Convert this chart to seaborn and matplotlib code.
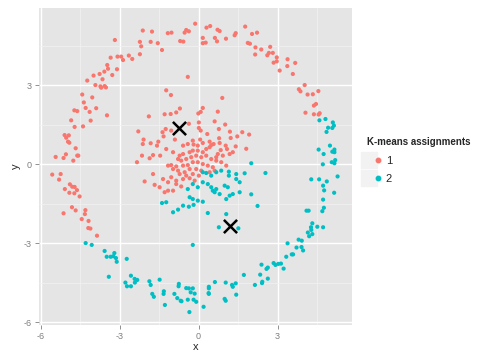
import numpy as np
import pandas as pd
import matplotlib
matplotlib.use("Agg")
import matplotlib.pyplot as plt
import seaborn as sns
from matplotlib.lines import Line2D
from matplotlib.legend_handler import HandlerTuple

## cluster 1 (red)
c1_x = [-2.12, -3.18, -2.23, -2.18, -2.23, -3.08, -2.94, -2.87, -2.65, -2.52, -3.34, -3.47, -3.44, -3.10,
        -3.58, -3.28, -3.76, -3.99, -3.65, -4.23, -3.92, -3.73, -3.70, -3.57, -3.52, -4.42, -4.04, -4.36,
        -4.29, -3.89, -4.72, -4.61, -4.14, -3.48,
        -0.13, -1.77, -1.17, -1.03, -0.53, -0.47, -0.37, 0.30, 0.44, 0.72, 0.80, 1.77, 0.16, 0.62, 1.04,
        1.37, 1.41, -1.82, -1.55, -1.39, -0.70, -0.58, 0.16, 0.27, 0.70, 1.87, -0.41, -1.23, -1.05, 0.90,
        0.16, -0.71, -0.85, -1.06, -1.29, -1.89, -0.01, 0.08, 0.73,
        2.03, 2.22, 1.95, 2.16, 2.38, 2.72, 2.15, 2.61, 2.67, 2.82, 2.97, 2.85, 2.97, 3.38, 3.67, 3.37,
        3.08, 3.58, 4.03, 3.81, 3.87, 4.14, 4.34, 4.55, 4.46, 4.38, 4.06, 4.38, 4.56, 4.60,
        -4.84, -4.10, -4.71, -4.39, -5.09, -4.93, -5.03, -4.96, -4.91, -4.67, -5.04, -4.61, -4.57, -5.43,
        -5.13, -4.76, -2.29, -2.09, -2.12, -2.15, -2.34, -5.56, -5.24, -5.30, -4.89, -4.80, -4.71, -5.08,
        -4.62, -4.91, -4.72, -4.52, -4.81, -4.67, -4.30, -5.13, -4.32, -4.44, -4.18, -2.05,
        0.61, 0.01, -0.37, -1.25, -1.37, -1.33, -1.04, -0.90, -1.82, -1.53, -1.58, -1.23, 0.01, 0.08,
        0.33, 0.77, 1.01, 1.19, 1.47, 1.66, 1.22, 0.78, 0.06, -0.22, -0.59, -0.41, -0.19, -0.03, 0.16,
        0.42, 0.48, 0.42, 0.57, 0.80, 1.03, 1.41, 1.30, 1.18, 1.08, 0.84, 0.73, 0.67, 0.92, 0.29, 0.16,
        -0.03, -0.22, -0.34, -0.59, -0.72, -0.78, -0.66, -0.47, -0.28, -0.09, 0.10, 0.29, 0.48, 0.67,
        0.86, 1.05, -1.86, -1.73, -1.46, -0.97, -1.16, -1.04, -0.85, -0.97, -0.78, -0.59, -0.41, -0.22,
        -0.03, 0.16, 0.35, 0.54, -0.09, 0.10, -0.34, -0.53, -0.72, -0.47, -0.22, 0.01, 0.42, 0.61,
        -1.73, -1.67, -1.35, -1.16, -1.04, -0.85, -1.48, -1.29, -1.16, -0.97, -0.59, -0.34, -0.15,
        -0.66, -0.85,
        1.92, 1.81, -4.19, -4.11, -3.86]
c1_y = [5.08, 4.72, 4.65, 4.48, 4.18, 4.09, 4.09, 3.96, 4.13, 4.00, 4.05, 3.77, 3.63, 3.61,
        3.52, 3.39, 3.43, 3.37, 3.23, 3.18, 3.01, 2.96, 2.91, 2.97, 2.92, 2.65, 2.54, 2.35,
        2.14, 2.13, 2.05, 2.02, 1.99, 1.86,
        5.34, 5.04, 4.98, 5.00, 5.00, 5.10, 5.05, 5.19, 5.25, 5.11, 5.06, 5.23, 4.80, 4.80, 4.77,
        4.90, 4.98, 4.65, 4.60, 4.34, 4.68, 4.66, 4.60, 4.62, 4.67, 4.61, 3.32, 2.81, 2.63, 2.52,
        2.14, 2.12, 1.97, 1.91, 1.90, 1.82, 1.93, 1.99, 2.00,
        4.95, 5.00, 4.58, 4.44, 4.36, 4.46, 4.17, 4.14, 4.23, 4.23, 4.06, 3.86, 3.91, 3.99, 3.85, 3.73,
        3.56, 3.43, 3.01, 2.85, 2.77, 2.65, 2.66, 2.78, 2.29, 2.23, 1.96, 1.90, 1.89, 1.94,
        1.67, 1.66, 1.42, 1.44, 1.11, 1.10, 1.01, 0.86, 0.82, 0.61, 0.38, 0.33, 0.33, 0.28,
        0.24, 0.14, 1.25, 0.94, 0.77, 0.33, 0.08, -0.39, -0.37, -0.58, -0.76, -0.85, -0.86, -0.94,
        -0.98, -1.08, -1.10, -1.22, -1.63, -1.75, -1.74, -1.86, -1.89, -2.08, -2.15, -0.65,
        1.63, 1.59, 1.54, 1.34, 1.22, 1.06, 1.28, 0.94, 0.80, 0.86, 0.71, 0.58, 1.38, 1.28,
        1.15, 1.34, 1.51, 1.24, 1.06, 1.22, 1.00, 0.99, 0.94, 0.90, 0.71, 0.77, 0.75, 0.71, 0.81,
        0.86, 0.73, 0.65, 0.77, 0.81, 0.71, 0.68, 0.46, 0.39, 0.58, 0.54, 0.39, 0.27, 0.33, 0.58, 0.46,
        0.52, 0.52, 0.46, 0.39, 0.33, 0.20, 0.14, 0.20, 0.27, 0.33, 0.27, 0.33, 0.20, 0.14,
        0.08, -0.05, 0.23, 0.35, 0.33, 0.46, -0.05, -0.03, -0.08, -0.18, -0.24, -0.05, -0.03, 0.08,
        0.08, 0.01, -0.05, -0.11, -0.18, -0.24, -0.18, -0.30, -0.37, -0.43, -0.37, -0.43, -0.30, -0.24,
        -0.37, -0.78, -0.56, -0.68, -0.49, -0.62, -0.87, -1.06, -1.00, -1.00, -0.56, -0.53, -0.62,
        -0.84, -0.75,
        1.13, 0.59, -2.42, -2.44, -2.71]

## cluster 2 (teal)
c2_x = [0.16, 0.29, 0.48, 0.67, 0.86, 1.15, 1.15, 1.43, 1.43, 1.56, 0.16, 0.35, 0.48, 0.54, 0.61,
        0.67, 0.99, 1.11, 0.80, 1.05, 1.18, 1.30, 1.56, -0.41, -0.22, -0.03, -0.34, -0.22, -0.03, 0.16,
        -1.39, -1.23, -0.78, -0.59, -0.37, -0.19, -0.97, 0.35, 1.05,
        2.00, 1.75, 4.59, 4.82, 5.10, 5.14, 4.92, 5.08, 4.86, 4.99, 4.56, 4.75, 5.08, 5.16, 5.16, 5.19,
        5.06, 5.16, 4.72, 2.54, 5.28, 4.28, 4.58, 4.87, 4.73, 4.77, 5.15, 2.00, 4.73, 2.24, 4.76, 4.10,
        4.18, 4.70,
        -4.29, -4.06, -3.57, -3.20, -3.49, -3.34, -3.24, -3.14, -3.11, -2.73, -3.41, -2.57, -2.43,
        -2.33, -2.42, -2.78, -2.72, -2.57,
        0.77, 1.51, -0.22, -1.87, -1.48, -1.82, -1.76, -1.70, -1.32, -1.33, -0.92, -0.75, -0.76, -0.47,
        -0.37, -0.22, -0.30, -0.15, -0.81, -0.68, -0.65, -0.41, -0.19, -0.09, -1.28, 0.19, -0.35, 0.39,
        0.39, 0.38, 0.39, 0.62, 1.03, 1.27, 1.30, 1.41, 1.43, 0.99, 1.03, 1.72,
        4.32, 4.51, 4.73, 4.27, 4.28, 4.15, 4.32, 4.20, 3.80, 3.92, 3.38, 3.72, 3.91, 3.97, 3.33, 3.54,
        3.59, 2.85, 2.92, 3.03, 3.13, 3.23, 2.39, 2.63, 2.58, 2.34, 2.63, 2.42, 2.41, 2.14]
c2_y = [-0.30, -0.33, -0.43, -0.30, -0.24, -0.28, -0.43, -0.37, -0.56, -0.68, -0.68, -0.75, -0.87,
        -1.00, -1.06, -0.94, -0.81, -0.87, -1.13, -1.32, -1.19, -1.13, -1.06, -0.94, -0.75, -0.87,
        -1.25, -1.32, -1.38, -1.42, -1.47, -1.44, -1.72, -1.57, -1.61, -1.54, -1.82, -1.85, -1.89,
        0.04, -0.34, 1.67, 1.72, 1.59, 1.47, 1.39, 1.38, 1.23, 0.71, 0.56, 0.39, 0.48, 0.56, 0.46, 0.16,
        0.08, 0.04, 0.00, -0.33, -0.46, -0.57, -0.57, -0.65, -0.81, -0.99, -1.08, -1.14, -1.34, -1.58,
        -1.65, -1.76, -1.76, -1.78,
        -2.99, -3.06, -3.29, -3.37, -3.51, -3.51, -3.49, -3.56, -3.70, -3.59, -4.27, -4.23, -4.35,
        -4.39, -4.49, -4.49, -4.63, -4.63,
        -2.39, -2.43, -3.06, -4.44, -4.38, -4.58, -4.92, -5.03, -4.82, -4.92, -4.92, -4.54, -4.63, -4.70,
        -4.71, -4.71, -4.86, -4.91, -5.08, -5.18, -5.20, -5.14, -5.14, -5.22, -5.34, -5.41, -5.61, -4.65,
        -4.71, -4.89, -4.92, -4.47, -4.49, -4.58, -4.65, -4.52, -4.95, -5.11, -5.18, -4.20,
        -2.24, -2.37, -2.39, -2.39, -2.49, -2.59, -2.65, -2.73, -2.86, -2.90, -3.00, -3.16, -3.14, -3.27,
        -3.51, -3.42, -3.42, -3.75, -3.82, -3.78, -3.77, -3.96, -3.81, -3.92, -3.97, -4.19, -4.34, -4.46,
        -4.51, -4.58]

centers_x = [-0.76, 1.18]
centers_y = [1.38, -2.35]
labels = ["1", "2"]
colors = ["#F8766D", "#00BFC4"]

df = pd.DataFrame({
    "x": c1_x + c2_x,
    "y": c1_y + c2_y,
    "cluster": ["1"] * len(c1_x) + ["2"] * len(c2_x),
})

sns.set_style("darkgrid")
plt.rcParams["font.family"] = ["Liberation Sans", "DejaVu Sans"]
plt.rcParams["axes.unicode_minus"] = False

fig = plt.figure(figsize=(5.04, 3.54), dpi=100)
ax = fig.add_axes([0.077, 0.082, 0.621, 0.895])
ax.set_facecolor("#E5E5E5")

sns.scatterplot(data=df, x="x", y="y", hue="cluster", palette=colors, hue_order=labels,
                s=9, linewidth=0, ax=ax, legend=False, zorder=3)
ax.scatter(centers_x, centers_y, marker="x", s=90, color="black", linewidths=1.8, zorder=4)

ax.set_xlim(-6.07, 5.82)
ax.set_ylim(-6.1, 5.93)
ax.set_xticks([-6, -3, 0, 3])
ax.set_yticks([-6, -3, 0, 3])
ax.set_xticks([-4.5, -1.5, 1.5, 4.5], minor=True)
ax.set_yticks([-4.5, -1.5, 1.5, 4.5], minor=True)
ax.grid(which="major", color="white", linewidth=1.0)
ax.grid(which="minor", color="#F2F2F2", linewidth=0.5)
ax.set_axisbelow(True)
for sp in ax.spines.values():
    sp.set_visible(False)
ax.tick_params(which="major", length=3, width=0.6, color="#7F7F7F", labelcolor="#7F7F7F",
               labelsize=6.5, pad=2, bottom=True, left=True)
ax.tick_params(which="minor", length=0)
ax.set_xlabel("x", fontsize=8, labelpad=1)
ax.set_ylabel("y", fontsize=8, labelpad=2)

handles = [(Line2D([], [], marker="s", ms=12, color="#F2F2F2", ls=""),
            Line2D([], [], marker="o", ms=3.2, color=c, ls="")) for c in colors]
leg = fig.legend(handles, labels, handler_map={tuple: HandlerTuple(ndivide=None)},
                 title="K-means assignments", loc="upper left",
                 bbox_to_anchor=(0.708, 0.64), frameon=False, fontsize=8,
                 title_fontsize=7, handlelength=1.2, handletextpad=0.5, labelspacing=0.75)
leg.get_title().set_fontweight("bold")
leg._legend_box.align = "left"

fig.savefig("out.png", dpi=100)
